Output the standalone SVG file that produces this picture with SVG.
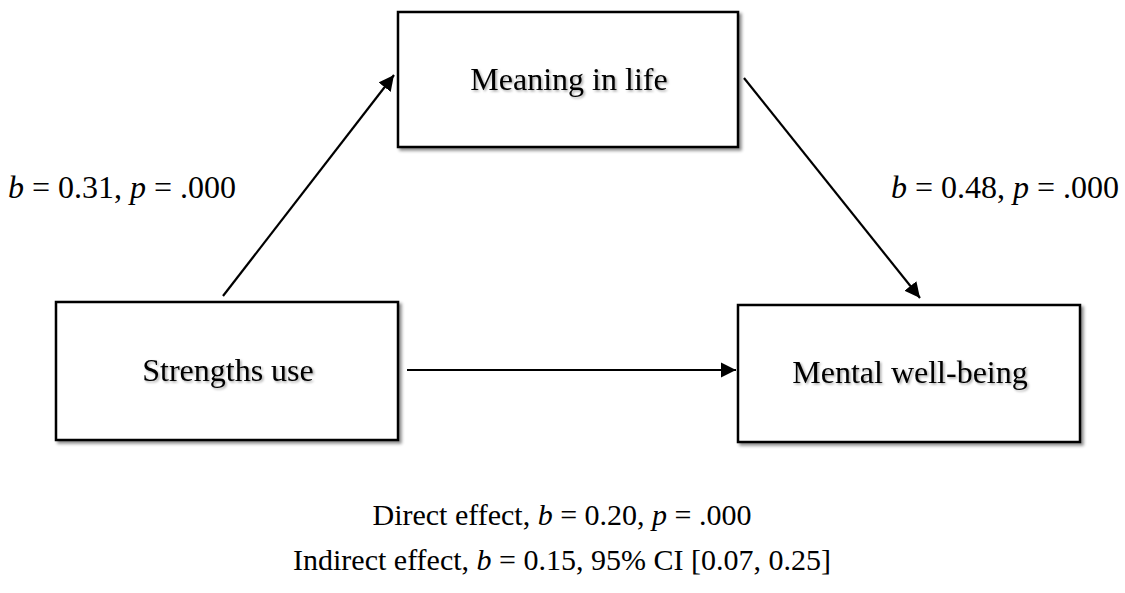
<svg xmlns="http://www.w3.org/2000/svg" width="1125" height="593" viewBox="0 0 1125 593">
<style>
.box{fill:#fff;stroke:#000;stroke-width:2.5}
.t{font-family:"Liberation Serif","Times New Roman",serif;font-size:32px;fill:#000}
.b{font-size:30px}
.nt{text-anchor:middle}
.edge{stroke:#000;stroke-width:2.2;fill:none}
</style>
<defs>
<filter id="sh" x="-10%" y="-10%" width="130%" height="130%">
<feDropShadow dx="2.5" dy="2.5" stdDeviation="1.5" flood-color="#000" flood-opacity="0.45"/>
</filter>
<filter id="tsh" x="-10%" y="-20%" width="130%" height="150%">
<feDropShadow dx="1.5" dy="1.5" stdDeviation="1" flood-color="#000" flood-opacity="0.35"/>
</filter>
<marker id="ah" viewBox="0 0 10 10" refX="10" refY="5" markerWidth="7" markerHeight="7" markerUnits="strokeWidth" orient="auto">
<path d="M0,0 L10,5 L0,10 z" fill="#000"/>
</marker>
</defs>
<g id="meaning">
<rect class="box" x="398" y="12" width="340" height="135" filter="url(#sh)"/>
<text class="t nt" x="569" y="90" filter="url(#tsh)">Meaning in life</text>
</g>
<g id="strengths">
<rect class="box" x="56" y="302" width="342" height="138" filter="url(#sh)"/>
<text class="t nt" x="228" y="381" filter="url(#tsh)">Strengths use</text>
</g>
<g id="wellbeing">
<rect class="box" x="738" y="305" width="342" height="137" filter="url(#sh)"/>
<text class="t nt" x="910" y="383" filter="url(#tsh)">Mental well-being</text>
</g>
<g id="connectors">
<line class="edge" x1="223" y1="296" x2="394" y2="75" marker-end="url(#ah)"/>
<line class="edge" x1="744" y1="78" x2="920" y2="298" marker-end="url(#ah)"/>
<line class="edge" x1="407" y1="370" x2="736" y2="370" marker-end="url(#ah)"/>
</g>
<g id="labels">
<text class="t" x="8" y="198"><tspan font-style="italic">b</tspan> = 0.31, <tspan font-style="italic">p</tspan> = .000</text>
<text class="t" x="891" y="198"><tspan font-style="italic">b</tspan> = 0.48, <tspan font-style="italic">p</tspan> = .000</text>
<text class="t b nt" x="562" y="525">Direct effect, <tspan font-style="italic">b</tspan> = 0.20, <tspan font-style="italic">p</tspan> = .000</text>
<text class="t b nt" x="562" y="570">Indirect effect, <tspan font-style="italic">b</tspan> = 0.15, 95% CI [0.07, 0.25]</text>
</g>
</svg>
